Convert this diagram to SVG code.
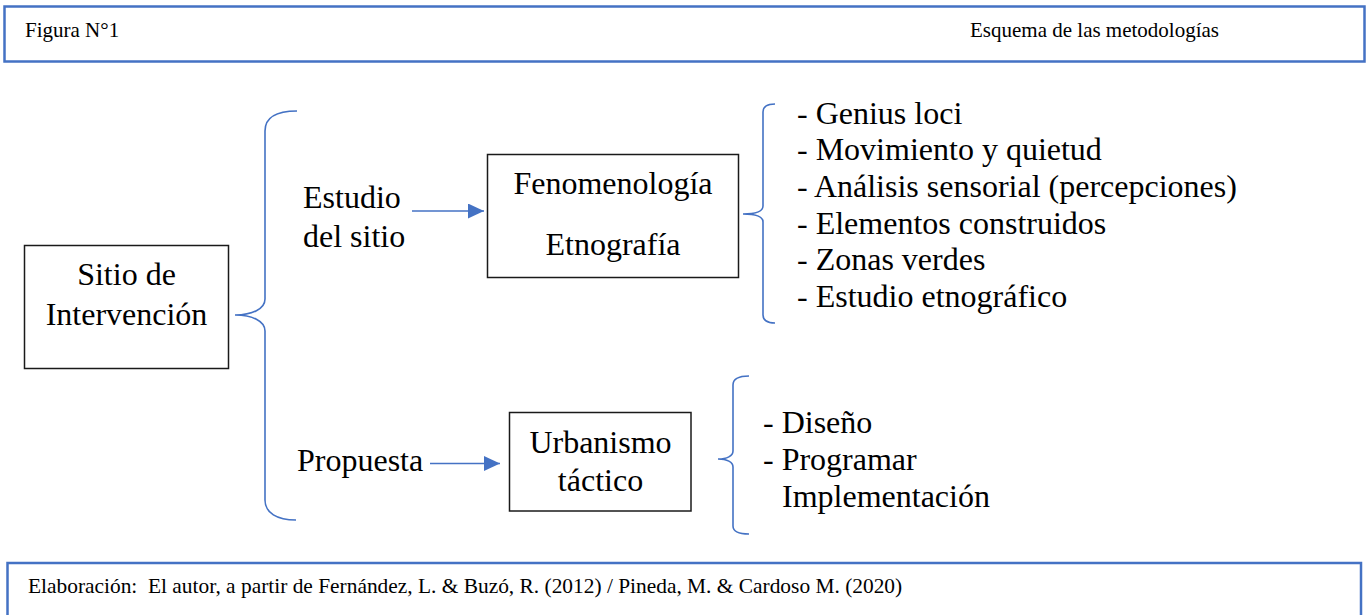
<svg xmlns="http://www.w3.org/2000/svg" width="1370" height="615" viewBox="0 0 1370 615">
<defs>
<style>
.frame{fill:#fff;stroke:#4472C4;stroke-width:2.5}
.box{fill:#fff;stroke:#1a1a1a;stroke-width:1.5}
.brace{fill:none;stroke:#4472C4;stroke-width:1.6}
.arrow{fill:none;stroke:#4472C4;stroke-width:1.6}
text{font-family:"Liberation Serif","Times New Roman",serif;fill:#000}
.big{font-size:32px}
.small{font-size:21px}
.foot{font-size:21.4px}
.c{text-anchor:middle}
</style>
<marker id="ah" markerWidth="16" markerHeight="15" refX="16" refY="7.5" orient="auto" markerUnits="userSpaceOnUse">
<path d="M0,0 L16,7.5 L0,15 Z" fill="#4472C4"/>
</marker>
</defs>
<rect width="1370" height="615" fill="#fff"/>
<g id="header">
<rect class="frame" x="4.5" y="6.5" width="1360" height="55"/>
<text class="small" x="25" y="37">Figura N°1</text>
<text class="small" x="970" y="37">Esquema de las metodologías</text>
</g>
<g id="footer">
<rect class="frame" x="7.5" y="563" width="1353.5" height="70"/>
<text class="foot" x="28" y="593" xml:space="preserve">Elaboración:  El autor, a partir de Fernández, L. &amp; Buzó, R. (2012) / Pineda, M. &amp; Cardoso M. (2020)</text>
</g>
<g id="connectors">
<path class="brace" d="M297,111 C277,111 265,117 265,131 L265,299 C265,309 252,315 235,315 C252,315 265,321 265,331 L265,500 C265,513 277,520 296,520"/>
<path class="brace" d="M775,104 C767,104 763,106 763,112 L763,206 C763,211 756,214 743,214 C756,214 763,217 763,222 L763,315 C763,321 767,323 775,323"/>
<path class="brace" d="M749,376 C740,376 733,378 733,385 L733,451 C733,456 727,459 718,459 C727,459 733,462 733,467 L733,526 C733,532 740,534 749,534"/>
<line class="arrow" x1="412" y1="211" x2="484" y2="211" marker-end="url(#ah)"/>
<line class="arrow" x1="430" y1="463.5" x2="500" y2="463.5" marker-end="url(#ah)"/>
</g>
<g id="sitio">
<rect class="box" x="24.5" y="245.5" width="204" height="123"/>
<text class="big c" x="126.5" y="285">Sitio de</text>
<text class="big c" x="126.5" y="325">Intervención</text>
</g>
<g id="estudio">
<text class="big" x="303" y="208">Estudio</text>
<text class="big" x="303" y="247">del sitio</text>
</g>
<g id="propuesta">
<text class="big" x="297" y="471">Propuesta</text>
</g>
<g id="fenomenologia">
<rect class="box" x="487.5" y="154.5" width="251" height="123"/>
<text class="big c" x="613" y="194">Fenomenología</text>
<text class="big c" x="613" y="255">Etnografía</text>
</g>
<g id="urbanismo">
<rect class="box" x="509.5" y="412.5" width="181.5" height="98.5"/>
<text class="big c" x="600.5" y="453">Urbanismo</text>
<text class="big c" x="600.5" y="491">táctico</text>
</g>
<g id="lista1">
<text class="big" x="797" y="123.5">- Genius loci</text>
<text class="big" x="797" y="160">- Movimiento y quietud</text>
<text class="big" x="797" y="197">- Análisis sensorial (percepciones)</text>
<text class="big" x="797" y="233.5">- Elementos construidos</text>
<text class="big" x="797" y="270">- Zonas verdes</text>
<text class="big" x="797" y="306.5">- Estudio etnográfico</text>
</g>
<g id="lista2">
<text class="big" x="763" y="433">- Diseño</text>
<text class="big" x="763" y="470">- Programar</text>
<text class="big" x="782" y="507">Implementación</text>
</g>
</svg>
